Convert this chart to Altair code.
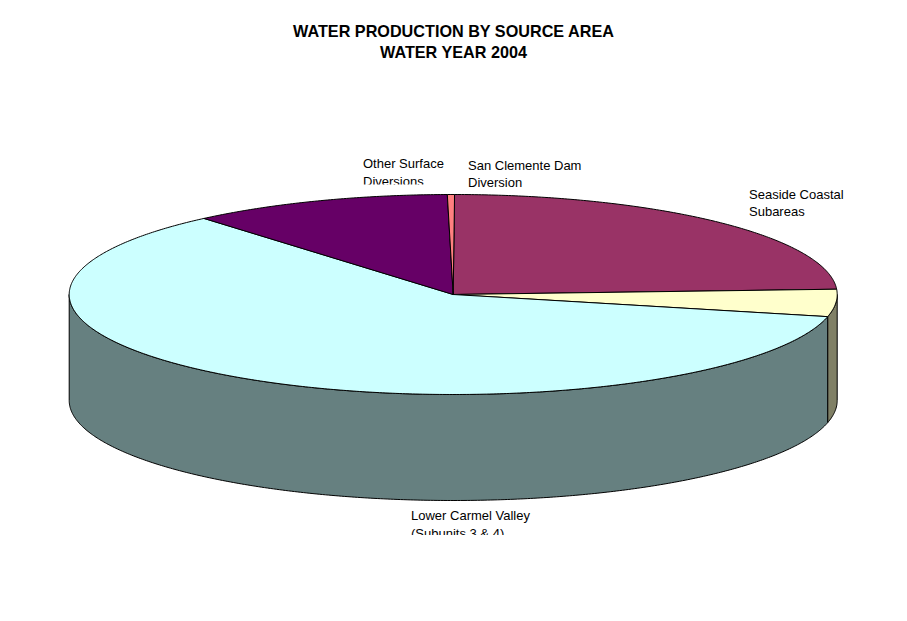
import math
import altair as alt
import pandas as pd

# Share of the sweep for each slice, clockwise from the top
slice_names = ["Seaside Coastal Subareas", "Unlabelled", "Lower Carmel Valley (Subunits 3 & 4)",
               "Other Surface Diversions", "San Clemente Dam Diversion"]
slice_values = [24.1, 4.4, 60.2, 11.0, 0.3]
slice_colors = ["#993366", "#FFFFCC", "#CCFFFF", "#660066", "#FF8080"]
side_colors = ["#993366", "#808066", "#668080", "#660066", "#FF8080"]

label_text = ["Other Surface", "Diversions", "San Clemente Dam", "Diversion", "Seaside Coastal", "Subareas",
              "Lower Carmel Valley", "(Subunits 3 & 4)"]
label_x = [363, 363, 468, 468, 749, 749, 411, 411]
label_y = [163.5, 182, 165.5, 182.5, 194.5, 211.5, 515.5, 533.5]

title_lines = ["WATER PRODUCTION BY SOURCE AREA", "WATER YEAR 2004"]
title_x = [453.5, 453.5]
title_y = [31.5, 52.5]

# Boxes that cut the lower label lines off where the original's label boxes end
mask_x = [355, 400]
mask_x2 = [460, 540]
mask_y = [184.5, 535]
mask_y2 = [193, 550]

CX, CY, RX, RY, DEPTH = 453.2, 294.5, 384.0, 100.0, 106.0
START = 0.2
W, H = 890, 604

xs = alt.Scale(domain=[8, 8 + W], nice=False, zero=False)
ys = alt.Scale(domain=[8 + H, 8], nice=False, zero=False)


def pt(deg, dy=0.0):
    a = math.radians(deg)
    return CX + RX * math.sin(a), CY - RY * math.cos(a) + dy


def sweep(a0, a1):
    n = max(2, int(abs(a1 - a0)) * 2)
    return [a0 + (a1 - a0) * k / n for k in range(n + 1)]


def poly(points, color):
    df = pd.DataFrame({"x": [p[0] for p in points], "y": [p[1] for p in points],
                       "i": list(range(len(points)))})
    return alt.Chart(df).mark_line(fill=color, stroke="black", strokeWidth=1, strokeJoin="miter").encode(
        x=alt.X("x:Q", scale=xs, axis=None),
        y=alt.Y("y:Q", scale=ys, axis=None),
        order="i:Q",
    )


total = sum(slice_values)
edges = [START]
for v in slice_values:
    edges.append(edges[-1] + v / total * 360)

layers = []

# Labels and the boxes that trim them
labels = pd.DataFrame({"t": label_text, "x": label_x, "y": label_y})
layers.append(alt.Chart(labels).mark_text(font="Liberation Sans", fontSize=13, align="left", baseline="middle",
                                          color="black").encode(
    x=alt.X("x:Q", scale=xs, axis=None), y=alt.Y("y:Q", scale=ys, axis=None), text="t:N"))
masks = pd.DataFrame({"x": mask_x, "x2": mask_x2, "y": mask_y, "y2": mask_y2})
layers.append(alt.Chart(masks).mark_rect(color="white").encode(
    x=alt.X("x:Q", scale=xs, axis=None), x2="x2:Q",
    y=alt.Y("y:Q", scale=ys, axis=None), y2="y2:Q"))

titles = pd.DataFrame({"t": title_lines, "x": title_x, "y": title_y})
layers.append(alt.Chart(titles).mark_text(font="Liberation Sans", fontSize=16.2, fontWeight="bold", align="center",
                                          baseline="middle", color="black").encode(
    x=alt.X("x:Q", scale=xs, axis=None), y=alt.Y("y:Q", scale=ys, axis=None), text="t:N"))

# Visible wall: the part of each slice's rim on the near half of the ellipse
for i in range(len(slice_values)):
    a0, a1 = max(edges[i], 90), min(edges[i + 1], 270)
    if a1 <= a0:
        continue
    arc = sweep(a0, a1)
    pts = [pt(a) for a in arc] + [pt(a, DEPTH) for a in reversed(arc)]
    pts.append(pts[0])
    layers.append(poly(pts, side_colors[i]))

# Top face
for i in range(len(slice_values)):
    pts = [(CX, CY)] + [pt(a) for a in sweep(edges[i], edges[i + 1])] + [(CX, CY)]
    layers.append(poly(pts, slice_colors[i]))

chart = alt.layer(*layers).properties(
    width=W, height=H, padding=0, autosize=alt.AutoSizeParams(type="none"), background="white"
).configure_view(stroke=None)

chart.save("out.html", embed_options={"renderer": "svg", "actions": False})
